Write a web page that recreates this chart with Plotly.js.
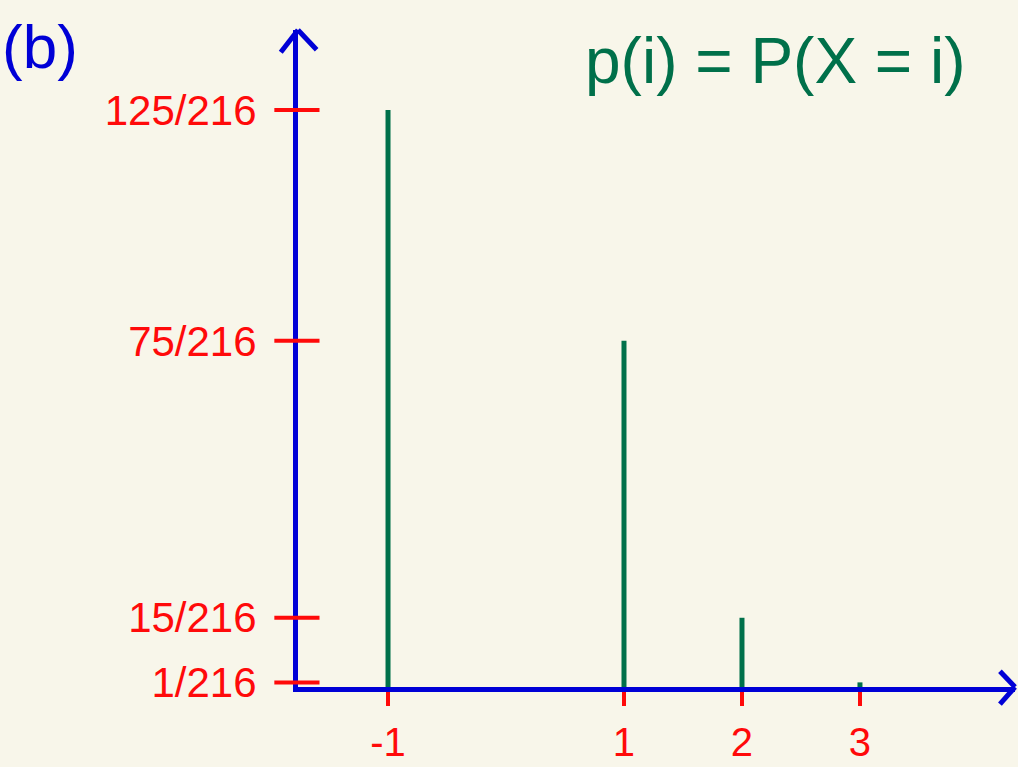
<!DOCTYPE html>
<html>
<head>
<meta charset="utf-8">
<script src="https://cdn.plot.ly/plotly-3.0.1.min.js"></script>
<style>
  html, body { margin: 0; padding: 0; background: #f8f6ea; }
  #chart { width: 1018px; height: 767px; }
</style>
</head>
<body>
<div id="chart"></div>
<script>
// Probability mass function p(i) = P(X = i)
const outcomes = [-1, 1, 2, 3];
const numerators = [125, 75, 15, 1];
const denominator = 216;
const probabilities = numerators.map(n => n / denominator);
const probLabels = numerators.map(n => n + '/' + denominator);
const xTickLabels = ['-1', '1', '2', '3'];

const BG = '#f8f6ea';
const BLUE = '#0000d6';
const RED = '#ff0a0a';
const GREEN = '#00704a';
const FONT = 'Liberation Sans, Arial, sans-serif';

// One vertical stem per outcome, from 0 up to its probability
const stemX = [], stemY = [];
outcomes.forEach((x, i) => {
  stemX.push(x, x, null);
  stemY.push(0, probabilities[i], null);
});

const traces = [{
  type: 'scatter',
  mode: 'lines',
  x: stemX,
  y: stemY,
  line: { color: GREEN, width: 5 },
  hoverinfo: 'skip',
  showlegend: false
}];

// Red tick bars crossing the vertical axis
const shapes = probabilities.map(p => ({
  type: 'line', xref: 'paper', yref: 'y',
  x0: -0.033, x1: 0.03, y0: p, y1: p,
  line: { color: RED, width: 4 }, layer: 'above'
}));

// Arrow heads at the ends of both axes
const arrow = (x0, y0, x1, y1) => ({
  type: 'line', xref: 'paper', yref: 'paper',
  x0, y0, x1, y1,
  line: { color: BLUE, width: 5 }, layer: 'above'
});
shapes.push(
  arrow(-0.024, 0.966, 0, 1.0),
  arrow(0.026, 0.97, 0, 1.0),
  arrow(0.979, 0.024, 1.0, 0),
  arrow(0.979, -0.026, 1.0, 0)
);

const layout = {
  width: 1018,
  height: 767,
  paper_bgcolor: BG,
  plot_bgcolor: BG,
  margin: { l: 298, r: 3, t: 30, b: 80 },
  showlegend: false,
  xaxis: {
    range: [-1.763, 4.314],
    tickvals: outcomes,
    ticktext: xTickLabels,
    ticks: 'outside',
    ticklen: 14,
    tickwidth: 4,
    tickcolor: RED,
    ticklabelstandoff: 2,
    tickfont: { family: FONT, size: 40, color: RED },
    showline: true,
    linecolor: BLUE,
    linewidth: 5,
    showgrid: false,
    zeroline: false,
    fixedrange: true
  },
  yaxis: {
    range: [0, 0.659],
    tickvals: probabilities,
    ticktext: probLabels,
    ticks: '',
    ticklabelstandoff: 28,
    tickfont: { family: FONT, size: 42, color: RED },
    showline: true,
    linecolor: BLUE,
    linewidth: 5,
    showgrid: false,
    zeroline: false,
    fixedrange: true
  },
  shapes: shapes,
  annotations: [
    {
      text: '(b)', xref: 'paper', yref: 'paper',
      x: -0.415, y: 1.03, xanchor: 'left', yanchor: 'top',
      showarrow: false,
      font: { family: FONT, size: 62, color: BLUE }
    },
    {
      text: 'p(i) = P(X = i)', xref: 'paper', yref: 'paper',
      x: 0.935, y: 1.01, xanchor: 'right', yanchor: 'top',
      showarrow: false,
      font: { family: FONT, size: 64, color: GREEN }
    }
  ]
};

Plotly.newPlot('chart', traces, layout, { displayModeBar: false, staticPlot: true });
</script>
</body>
</html>
